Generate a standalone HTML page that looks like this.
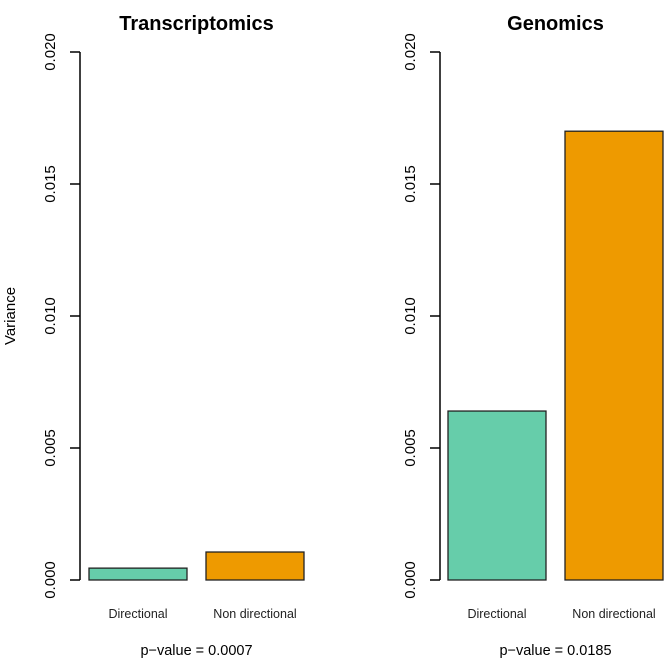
<!DOCTYPE html>
<html><head><meta charset="utf-8"><style>
body{margin:0;background:#fff}
svg{display:block;font-family:"Liberation Sans",Arial,sans-serif}
</style></head><body>
<svg id="chart" width="666" height="661"></svg>
<script>
const panelTitles = ["Transcriptomics", "Genomics"];
const categories = ["Directional", "Non directional"];
const transcriptomicsValues = [0.00045, 0.00106];
const genomicsValues = [0.0064, 0.0170];
const pValueLabels = ["p\u2212value = 0.0007", "p\u2212value = 0.0185"];
const tickValues = [0, 0.005, 0.010, 0.015, 0.020];
const tickLabels = ["0.000", "0.005", "0.010", "0.015", "0.020"];
const colors = ["#66cdaa", "#ee9a00"];

const NS = "http://www.w3.org/2000/svg";
const svg = document.getElementById("chart");
function mk(tag, attrs, parent){const e=document.createElementNS(NS,tag);for(const k in attrs)e.setAttribute(k,attrs[k]);(parent||svg).appendChild(e);return e;}
const y0=580, y1=52, vmax=0.020;
function yScale(v){return y0-(v/vmax)*(y0-y1);}
const panels=[{axisX:80,barX:[89,206],vals:transcriptomicsValues},{axisX:440,barX:[448,565],vals:genomicsValues}];
const barW=98;
panels.forEach((p,pi)=>{
  const g=mk("g",{});
  
  
  const cx=(p.barX[0]+p.barX[1]+barW)/2;
  const t=mk("text",{x:cx,y:30,"text-anchor":"middle","font-size":"20","font-weight":"bold"},g);
  t.textContent=panelTitles[pi];
  
  
  const ax=mk("line",{x1:p.axisX,x2:p.axisX,y1:yScale(tickValues[0]),y2:yScale(tickValues[tickValues.length-1]),stroke:"#000","stroke-width":"1.5"},g);
  
  
  tickValues.forEach((v,i)=>{
    const y=yScale(v);
    const tk=mk("line",{x1:p.axisX-10,x2:p.axisX,y1:y,y2:y,stroke:"#000","stroke-width":"1.5"},g);
    
    
    const lx=p.axisX-25;
    const tl=mk("text",{x:lx,y:y,"text-anchor":"middle","font-size":"15",transform:`rotate(-90 ${lx} ${y})`},g);
    tl.textContent=tickLabels[i];
    
    
  });
  p.vals.forEach((v,i)=>{
    const yt=yScale(v);
    const r=mk("rect",{x:p.barX[i],y:yt,width:barW,height:y0-yt,fill:colors[i],stroke:"#222","stroke-width":"1.3"},g);
    
    
    const cl=mk("text",{x:p.barX[i]+barW/2,y:618,"text-anchor":"middle","font-size":"12.5",fill:"#222"},g);
    cl.textContent=categories[i];
    
    
  });
  const pv=mk("text",{x:cx,y:655,"text-anchor":"middle","font-size":"14.5"},g);
  pv.textContent=pValueLabels[pi];
  
  
});
const yt=mk("text",{x:15,y:316,"text-anchor":"middle","font-size":"15",transform:"rotate(-90 15 316)"});
yt.textContent="Variance";


</script>
</body></html>
